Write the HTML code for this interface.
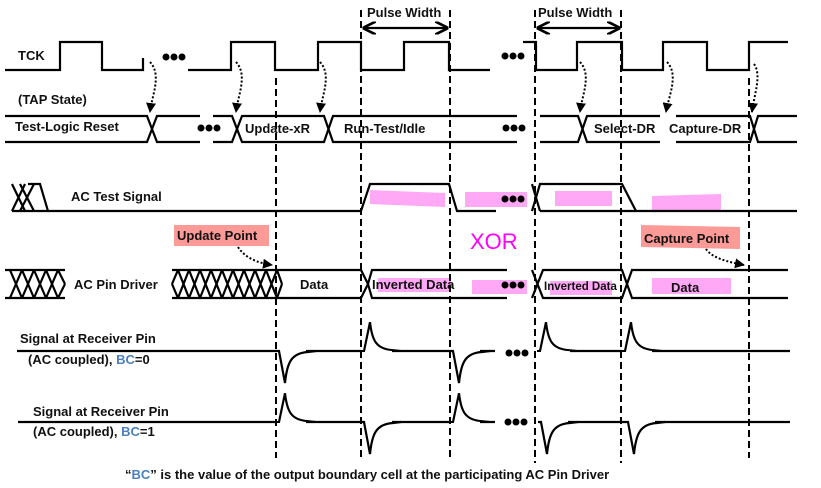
<!DOCTYPE html>
<html><head><meta charset="utf-8"><style>
html,body{margin:0;padding:0;background:#fff;}
svg{display:block;}
text{font-family:"Liberation Sans",sans-serif;font-weight:bold;font-size:13px;fill:#111;}
</style></head><body>
<svg width="821" height="488" viewBox="0 0 821 488" xmlns="http://www.w3.org/2000/svg">
<defs>
<path id="dn" d="M0,0 L3,0 L9,32 C11,12 15,2 32,1 L40,0" fill="none" stroke="#000" stroke-width="2.2"/>
<marker id="ah" viewBox="0 0 10 10" refX="9" refY="5" markerWidth="6" markerHeight="6" orient="auto-start-reverse"><path d="M0,0 L10,5 L0,10" fill="none" stroke="#000" stroke-width="2"/></marker>
<marker id="ah2" viewBox="0 0 10 10" refX="9" refY="5" markerWidth="5" markerHeight="5" orient="auto"><path d="M0,0 L10,5 L0,10 z" fill="#000"/></marker>
</defs>

<g fill="#ffa8f6">
<polygon points="370,190 445,193 445,207 370,204"/>
<rect x="465" y="192" width="62" height="15"/>
<rect x="555" y="191" width="57" height="15"/>
<polygon points="652,196 721,194 721,210 652,210"/>
<rect x="378" y="278" width="73" height="14"/>
<rect x="472" y="280" width="55" height="14"/>
<rect x="550" y="281" width="62" height="14"/>
<rect x="652" y="278" width="79" height="16"/>
</g>
<g fill="#fb9a96">
<rect x="174" y="225" width="95" height="21"/>
<polygon points="641,225 740,227 740,249 641,247"/>
</g>

<g stroke="#000" stroke-width="2" stroke-dasharray="7,4" fill="none">
<line x1="276" y1="78" x2="276" y2="458"/>
<line x1="361" y1="10" x2="361" y2="460"/>
<line x1="450" y1="10" x2="450" y2="458"/>
<line x1="535" y1="10" x2="535" y2="463"/>
<line x1="621" y1="10" x2="621" y2="463"/>
<line x1="749" y1="78" x2="749" y2="458"/>
</g>

<g stroke="#000" stroke-width="2.2" fill="none">
<path d="M5,70 H60 V42 H102 V70 H143 V58"/>
<path d="M188,70 H231 V42 H275 V70 H318 V42 H361 V70 H404 V42 H449 V70 H490"/>
<path d="M523,42 H536 V70 H577 V42 H622 V70 H663 V42 H707 V70 H749 V42 H788"/>
<line x1="364" y1="28" x2="447" y2="28" marker-start="url(#ah)" marker-end="url(#ah)"/>
<line x1="538" y1="28" x2="619" y2="28" marker-start="url(#ah)" marker-end="url(#ah)"/>
<path d="M5,116 H147 L157,142 H200 M5,142 H147 L157,116 H200"/>
<path d="M213,116 H232 L242,142 H324 L333,116 H517 M213,142 H232 L242,116 H324 L333,142 H517"/>
<path d="M540,116 H578 L587,142 H660 M540,142 H578 L587,116 H660"/>
<path d="M676,116 H750 L758,142 H797 M676,142 H750 L758,116 H797"/>
<path d="M12,184 L25,211 M12,211 L25,184 M20,184 L34,211 M20,211 L34,184 M28,184 H40 L48,211 M12,211 H361 L370,184 H449 L457,211 H496"/>
<path d="M532,184 L540,211 M532,211 L540,184 H543 H622 L636,211 H797 M540,211 H636"/>
<path d="M5,270 H65 M5,298 H65 M172,270 H361 L368,284 L372,298 H507 M172,298 H361 L368,284 L372,270 H507"/>
<path d="M10,270 L22,298 M10,298 L22,270 M22,270 L34,298 M22,298 L34,270 M34,270 L46,298 M34,298 L46,270 M46,270 L58,298 M46,298 L58,270 M58,270 L65,284 M58,298 L65,284"/>
<path d="M172,284 L178,270 M172,284 L178,298 M178,270 L189,298 M178,298 L189,270 M189,270 L200,298 M189,298 L200,270 M200,270 L211,298 M200,298 L211,270 M211,270 L222,298 M211,298 L222,270 M222,270 L233,298 M222,298 L233,270 M233,270 L244,298 M233,298 L244,270 M244,270 L255,298 M244,298 L255,270 M255,270 L266,298 M255,298 L266,270 M266,270 L277,298 M266,298 L277,270 M277,270 L282,284 M277,298 L282,284"/>
<path d="M532,270 L543,298 H622 L632,270 H788 M532,298 L543,270 H622 L632,298 H788"/>
<path d="M17,351 H276 M306,351 H361 M392,351 H450 M480,351 H495 M570,351 H622 M652,351 H790"/>
<path d="M18,422 H276 M306,422 H361 M392,422 H450 M480,422 H495 M568,422 H625 M655,422 H790"/>
</g>
<g>
<use href="#dn" transform="translate(276,351)"/>
<use href="#dn" transform="translate(361,351) scale(1,-0.9)"/>
<use href="#dn" transform="translate(450,351)"/>
<use href="#dn" transform="translate(537,351) scale(1,-0.9)"/>
<use href="#dn" transform="translate(622,351) scale(1,-0.9)"/>
<use href="#dn" transform="translate(276,422) scale(1,-0.9)"/>
<use href="#dn" transform="translate(361,422)"/>
<use href="#dn" transform="translate(450,422) scale(1,-0.9)"/>
<use href="#dn" transform="translate(538,422)"/>
<use href="#dn" transform="translate(625,422)"/>
</g>

<g stroke="#000" stroke-width="2" stroke-dasharray="2,2" fill="none">
<path d="M150,62 C162,75 152,95 150,112" marker-end="url(#ah2)"/>
<path d="M236,62 C248,75 238,95 236,112" marker-end="url(#ah2)"/>
<path d="M320,62 C332,75 322,95 320,112" marker-end="url(#ah2)"/>
<path d="M580,62 C592,75 582,95 580,112" marker-end="url(#ah2)"/>
<path d="M667,62 C679,75 669,95 666,112" marker-end="url(#ah2)"/>
<path d="M754,64 C762,75 754,95 752,112" marker-end="url(#ah2)"/>
<path d="M238,247 C245,258 258,263 272,265" marker-end="url(#ah2)"/>
<path d="M706,249 C712,258 728,262 744,265" marker-end="url(#ah2)"/>
</g>

<g fill="#000">
<circle cx="166" cy="57" r="3.5"/><circle cx="174" cy="57" r="3.5"/><circle cx="182" cy="57" r="3.5"/>
<circle cx="505" cy="56" r="3.5"/><circle cx="513" cy="56" r="3.5"/><circle cx="521" cy="56" r="3.5"/>
<circle cx="201" cy="128" r="3.5"/><circle cx="209" cy="128" r="3.5"/><circle cx="217" cy="128" r="3.5"/>
<circle cx="506" cy="128" r="3.5"/><circle cx="514" cy="128" r="3.5"/><circle cx="522" cy="128" r="3.5"/>
<circle cx="505" cy="199" r="3.5"/><circle cx="513" cy="199" r="3.5"/><circle cx="521" cy="199" r="3.5"/>
<circle cx="505" cy="285" r="3.5"/><circle cx="513" cy="285" r="3.5"/><circle cx="521" cy="285" r="3.5"/>
<circle cx="509" cy="353" r="3.5"/><circle cx="517" cy="353" r="3.5"/><circle cx="525" cy="353" r="3.5"/>
<circle cx="508" cy="422" r="3.5"/><circle cx="516" cy="422" r="3.5"/><circle cx="524" cy="422" r="3.5"/>
</g>

<text x="18" y="60">TCK</text>
<text x="18" y="104">(TAP State)</text>
<text x="15" y="131">Test-Logic Reset</text>
<text x="245" y="133">Update-xR</text>
<text x="344" y="133">Run-Test/Idle</text>
<text x="594" y="133">Select-DR</text>
<text x="669" y="133">Capture-DR</text>
<text x="367" y="17">Pulse Width</text>
<text x="538" y="17">Pulse Width</text>
<text x="71" y="201">AC Test Signal</text>
<text x="177" y="240">Update Point</text>
<text x="644" y="243">Capture Point</text>
<text x="470" y="249" style="font-weight:normal;font-size:22px;fill:#ff00ff">XOR</text>
<text x="74" y="289">AC Pin Driver</text>
<text x="300" y="289">Data</text>
<text x="372" y="289">Inverted Data</text>
<text x="544" y="290" style="font-size:11.5px">Inverted Data</text>
<text x="671" y="292">Data</text>
<text x="20" y="343">Signal at Receiver Pin</text>
<text x="28" y="364">(AC coupled), <tspan style="fill:#4a7fc0">BC</tspan>=0</text>
<text x="33" y="416">Signal at Receiver Pin</text>
<text x="33" y="436">(AC coupled), <tspan style="fill:#4a7fc0">BC</tspan>=1</text>
<text x="125" y="479">“<tspan style="fill:#4a7fc0">BC</tspan>” is the value of the output boundary cell at the participating AC Pin Driver</text>
</svg>
</body></html>
